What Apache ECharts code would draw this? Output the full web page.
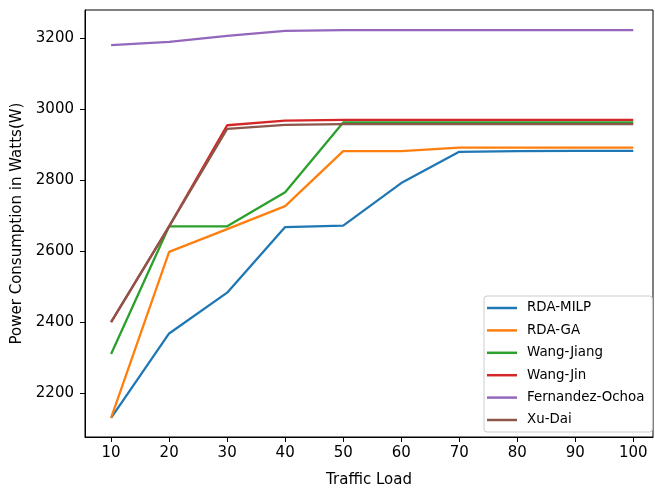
<!DOCTYPE html>
<html>
<head>
<meta charset="utf-8">
<script src="https://cdn.jsdelivr.net/npm/echarts@6/dist/echarts.min.js"></script>
<style>
  html, body { margin: 0; padding: 0; background: #fff; }
  #chart { width: 655px; height: 490px; }
</style>
</head>
<body>
<div id="chart"></div>
<script>
// Traffic load levels on the x axis
const trafficLoad = [10, 20, 30, 40, 50, 60, 70, 80, 90, 100];

// Power consumption (W) per algorithm
const rdaMilp        = [2130, 2368, 2483, 2668, 2672, 2792, 2880, 2882, 2883, 2883];
const rdaGa          = [2130, 2598, 2662, 2727, 2882, 2882, 2892, 2892, 2892, 2892];
const wangJiang      = [2310, 2670, 2670, 2766, 2963, 2963, 2963, 2963, 2963, 2963];
const wangJin        = [2400, 2670, 2955, 2968, 2970, 2970, 2970, 2970, 2970, 2970];
const fernandezOchoa = [3181, 3190, 3207, 3221, 3223, 3223, 3223, 3223, 3223, 3223];
const xuDai          = [2400, 2670, 2945, 2956, 2958, 2958, 2958, 2958, 2958, 2958];

const seriesNames = ['RDA-MILP', 'RDA-GA', 'Wang-Jiang', 'Wang-Jin', 'Fernandez-Ochoa', 'Xu-Dai'];
const seriesValues = [rdaMilp, rdaGa, wangJiang, wangJin, fernandezOchoa, xuDai];
const colors = ['#1f77b4', '#ff7f0e', '#2ca02c', '#d62728', '#9467bd', '#8c564b'];

const xTicks = [10, 20, 30, 40, 50, 60, 70, 80, 90, 100];
const yTicks = [2200, 2400, 2600, 2800, 3000, 3200];

const font = 'DejaVu Sans';
const chart = echarts.init(document.getElementById('chart'), null, { renderer: 'canvas' });

chart.setOption({
  animation: false,
  backgroundColor: '#ffffff',
  color: colors,
  grid: {
    left: 85, right: 2, top: 10, bottom: 53,
    containLabel: false,
    outerBoundsMode: 'none',
    show: true, borderColor: '#000', borderWidth: 1
  },
  xAxis: {
    type: 'value',
    min: 5.5, max: 103.4,
    name: 'Traffic Load',
    nameLocation: 'middle',
    nameGap: 36,
    nameTextStyle: { fontFamily: font, fontSize: 15, color: '#000' },
    axisLine: { show: true, lineStyle: { color: '#000', width: 1 } },
    axisTick: { show: true, inside: false, length: 5, customValues: xTicks, lineStyle: { color: '#000', width: 1 } },
    axisLabel: { customValues: xTicks, margin: 9, fontFamily: font, fontSize: 15, color: '#000',
                 formatter: v => String(v) },
    splitLine: { show: false }
  },
  yAxis: {
    type: 'value',
    min: 2076, max: 3280,
    name: 'Power Consumption in Watts(W)',
    nameLocation: 'middle',
    nameGap: 54,
    nameTextStyle: { fontFamily: font, fontSize: 15, color: '#000' },
    axisLine: { show: true, lineStyle: { color: '#000', width: 1 } },
    axisTick: { show: true, inside: false, length: 5, customValues: yTicks, lineStyle: { color: '#000', width: 1 } },
    axisLabel: { customValues: yTicks, margin: 11, fontFamily: font, fontSize: 15, color: '#000',
                 formatter: v => String(v) },
    splitLine: { show: false }
  },
  legend: {
    orient: 'vertical',
    left: 484, top: 296,
    padding: [5, 8, 5, 3],
    itemGap: 8.4,
    itemWidth: 30,
    itemHeight: 2.5,
    icon: 'rect',
    backgroundColor: 'rgba(255,255,255,0.8)',
    borderColor: '#cccccc',
    borderWidth: 1,
    borderRadius: 3,
    textStyle: { fontFamily: font, fontSize: 13.4, color: '#000', lineHeight: 14, padding: [0, 0, 0, 5] },
    data: seriesNames
  },
  series: seriesNames.map((name, i) => ({
    name: name,
    type: 'line',
    data: trafficLoad.map((x, j) => [x, seriesValues[i][j]]),
    showSymbol: false,
    symbol: 'none',
    lineStyle: { width: 2.3, color: colors[i] },
    itemStyle: { color: colors[i] },
    z: 2 + i
  }))
});
</script>
</body>
</html>
